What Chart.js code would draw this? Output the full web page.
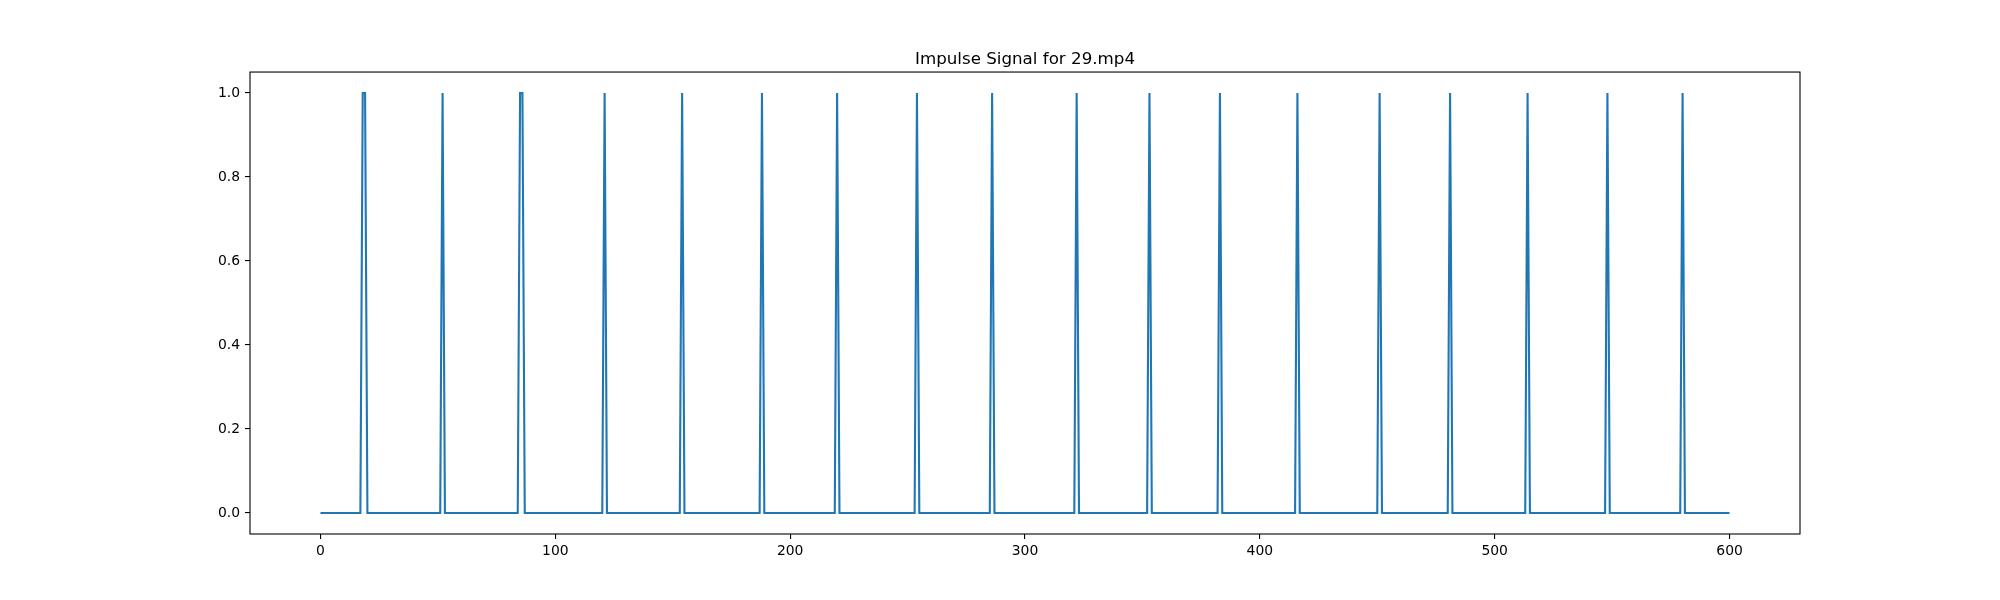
<!DOCTYPE html>
<html>
<head>
<meta charset="utf-8">
<script src="https://cdn.jsdelivr.net/npm/chart.js@4/dist/chart.umd.min.js"></script>
<style>
  html, body { margin: 0; padding: 0; background: #ffffff; }
  #wrap { width: 2000px; height: 600px; }
</style>
</head>
<body>
<div id="wrap"><canvas id="c" width="2000" height="600"></canvas></div>
<script>
// ---- data ----
const chartTitle = "Impulse Signal for 29.mp4";
const frameCount = 601;              // frames 0 .. 600
const impulseFrames = [18, 19, 52, 85, 86, 121, 154, 188, 220, 254, 286, 322, 353, 383, 416, 451, 481, 514, 548, 580];
const xTicks = [0, 100, 200, 300, 400, 500, 600];
const yTicks = [0.0, 0.2, 0.4, 0.6, 0.8, 1.0];
const xRange = [-30, 630];
const yRange = [-0.05, 1.05];

// series built from the read values
const frames = [];
const signal = [];
for (let i = 0; i < frameCount; i++) {
  frames.push(i);
  signal.push(impulseFrames.includes(i) ? 1 : 0);
}
const points = frames.map((f, i) => ({ x: f, y: signal[i] }));

const frameBox = {
  id: 'frameBox',
  afterDatasetsDraw(chart) {
    const a = chart.chartArea;
    const ctx = chart.ctx;
    ctx.save();
    ctx.strokeStyle = '#000000';
    ctx.lineWidth = 1.1;
    ctx.strokeRect(a.left, a.top, a.right - a.left, a.bottom - a.top);
    ctx.restore();
  }
};

new Chart(document.getElementById('c'), {
  type: 'line',
  data: {
    datasets: [{
      data: points,
      borderColor: '#1f77b4',
      borderWidth: 2.1,
      pointRadius: 0,
      tension: 0,
      fill: false
    }]
  },
  options: {
    responsive: false,
    animation: false,
    layout: { padding: { left: 0, right: 200, top: 0, bottom: 0 } },
    plugins: {
      legend: { display: false },
      tooltip: { enabled: false },
      title: {
        display: true,
        fullSize: false,
        text: chartTitle,
        color: '#000000',
        font: { family: 'DejaVu Sans', size: 16.7, weight: 'normal', lineHeight: 1.2 },
        padding: { top: 49.5, bottom: 2.5 }
      }
    },
    scales: {
      x: {
        type: 'linear',
        min: xRange[0],
        max: xRange[1],
        afterBuildTicks: (s) => { s.ticks = xTicks.map(v => ({ value: v })); },
        afterFit: (s) => { s.height = 66; },
        border: { display: false },
        grid: { drawOnChartArea: false, drawTicks: true, tickLength: 5, color: '#000000', lineWidth: 1.1 },
        ticks: {
          color: '#000000',
          padding: 4,
          maxRotation: 0,
          autoSkip: false,
          font: { family: 'DejaVu Sans', size: 13.9 },
          callback: (v) => String(v)
        }
      },
      y: {
        type: 'linear',
        min: yRange[0],
        max: yRange[1],
        afterBuildTicks: (s) => { s.ticks = yTicks.map(v => ({ value: v })); },
        afterFit: (s) => { s.width = 250; },
        border: { display: false },
        grid: { drawOnChartArea: false, drawTicks: true, tickLength: 5, color: '#000000', lineWidth: 1.1 },
        ticks: {
          color: '#000000',
          padding: 5,
          autoSkip: false,
          font: { family: 'DejaVu Sans', size: 13.9 },
          callback: (v) => Number(v).toFixed(1)
        }
      }
    }
  },
  plugins: [frameBox]
});
</script>
</body>
</html>
